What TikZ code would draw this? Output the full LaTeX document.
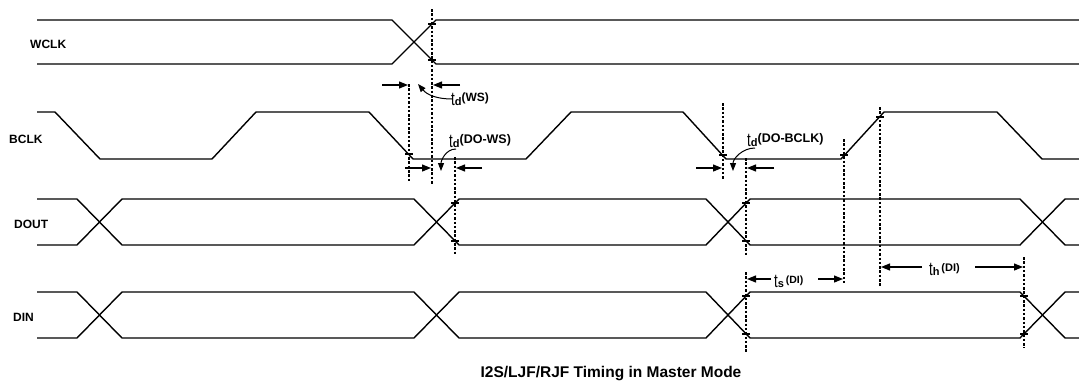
\documentclass[tikz,border=0pt]{standalone}
\usepackage{fontspec}
\usepackage{graphicx}
\setmainfont{Liberation Sans}
\usetikzlibrary{arrows.meta}
\newcommand{\tsym}{{\fontsize{19}{19}\selectfont\scalebox{0.7}[1]{t}}}
\newcommand{\tlabel}[3]{\tsym{\fontsize{11}{11}\selectfont\bfseries #1}\raisebox{3.5pt}{\fontsize{#3}{#3}\selectfont\bfseries #2}}
\begin{document}
\begin{tikzpicture}[x=1pt,y=1pt,
  sig/.style={line width=1.4pt, line join=miter},
  guide/.style={line width=2pt, dash pattern=on 2.5pt off 1.8pt},
  tickmark/.style={line width=1.2pt},
  dim/.style={line width=1.2pt, -{Triangle[length=9pt,width=7pt]}},
  curvarrow/.style={line width=1pt, -{Triangle[length=8pt,width=6pt]}},
  siglabel/.style={font=\fontsize{12}{12}\selectfont\bfseries, anchor=west, inner sep=0pt},
  tlab/.style={anchor=base west, inner sep=0pt}]
\useasboundingbox (0,0) rectangle (1079,-383);

% signal labels
\node[siglabel] (lwclk) at (30,-44) {WCLK};
\node[siglabel] (lbclk) at (9,-139) {BCLK};
\node[siglabel] (ldout) at (14,-224) {DOUT};
\node[siglabel] (ldin)  at (13,-317) {DIN};

% WCLK
\draw[sig] (37,-20) -- (392,-20) -- (436,-64) -- (1079,-64);
\draw[sig] (37,-64) -- (392,-64) -- (436,-20) -- (1079,-20);

% BCLK
\draw[sig] (37,-112) -- (55,-112) -- (100,-159) -- (212,-159) -- (256,-112) -- (369,-112)
  -- (413,-159) -- (526,-159) -- (571,-112) -- (683,-112) -- (726,-159) -- (841,-159)
  -- (884,-112) -- (997,-112) -- (1042,-159) -- (1079,-159);

% DOUT
\draw[sig] (37,-199) -- (77,-199) -- (122,-245) -- (414,-245) -- (459,-199) -- (706,-199)
  -- (750,-245) -- (1020,-245) -- (1065,-199) -- (1079,-199);
\draw[sig] (37,-245) -- (77,-245) -- (122,-199) -- (414,-199) -- (459,-245) -- (706,-245)
  -- (750,-199) -- (1020,-199) -- (1065,-245) -- (1079,-245);

% DIN
\draw[sig] (37,-292) -- (77,-292) -- (122,-338) -- (414,-338) -- (459,-292) -- (706,-292)
  -- (750,-338) -- (1020,-338) -- (1065,-292) -- (1079,-292);
\draw[sig] (37,-338) -- (77,-338) -- (122,-292) -- (414,-292) -- (459,-338) -- (706,-338)
  -- (750,-292) -- (1020,-292) -- (1065,-338) -- (1079,-338);

% guide coordinates
\coordinate (g1t) at (432,-9);   \coordinate (g1b) at (432,-185);
\coordinate (g2t) at (409,-84);  \coordinate (g2b) at (409,-182);
\coordinate (g3t) at (455,-157); \coordinate (g3b) at (455,-255);
\coordinate (g4t) at (723,-103); \coordinate (g4b) at (723,-179);
\coordinate (g5t) at (746,-158); \coordinate (g5b) at (746,-255);
\coordinate (g6t) at (746,-272); \coordinate (g6b) at (746,-352);
\coordinate (g7t) at (844,-139); \coordinate (g7b) at (844,-283);
\coordinate (g8t) at (880,-107); \coordinate (g8b) at (880,-286);
\coordinate (g9t) at (1024,-257); \coordinate (g9b) at (1024,-348);
\foreach \g in {1,...,9} { \draw[guide] (g\g t) -- (g\g b); }

% tick marks at crossings
\foreach \x/\y in {432/24, 432/60, 409/154, 455/203, 455/241, 723/155, 746/203, 746/241,
  844/155, 880/117, 746/296, 746/334, 1024/296, 1024/334}
  { \draw[tickmark] (\x-4,-\y) -- (\x+4,-\y); }

% td(WS)
\coordinate (a1s) at (382,-85); \coordinate (a1e) at (408,-85);
\coordinate (a2s) at (460,-85); \coordinate (a2e) at (433,-85);
\draw[dim] (a1s) -- (a1e);
\draw[dim] (a2s) -- (a2e);
\node[tlab] (tws) at (451,-105) {\tlabel{d}{(WS)}{12}};
\coordinate (c1s) at (452,-99); \coordinate (c1e) at (418,-84);
\draw[curvarrow] (c1s) to[out=180,in=-50] (c1e);

% td(DO-WS)
\coordinate (b1s) at (405,-168); \coordinate (b1e) at (431,-168);
\coordinate (b2s) at (482,-168); \coordinate (b2e) at (456,-168);
\draw[dim] (b1s) -- (b1e);
\draw[dim] (b2s) -- (b2e);
\node[tlab] (tdows) at (449,-147) {\tlabel{d}{(DO-WS)}{12.5}};
\coordinate (c2s) at (456,-149); \coordinate (c2e) at (441,-171);
\draw[curvarrow] (c2s) to[out=180,in=90] (c2e);

% td(DO-BCLK)
\coordinate (d1s) at (696,-168); \coordinate (d1e) at (722,-168);
\coordinate (d2s) at (774,-168); \coordinate (d2e) at (747,-168);
\draw[dim] (d1s) -- (d1e);
\draw[dim] (d2s) -- (d2e);
\node[tlab] (tdobclk) at (747,-146) {\tlabel{d}{(DO-BCLK)}{12.5}};
\coordinate (c3s) at (755,-148); \coordinate (c3e) at (733,-171);
\draw[curvarrow] (c3s) to[out=180,in=90] (c3e);

% ts(DI)
\node[tlab] (tsdi) at (774,-287) {\tlabel{s}{\,(DI)}{10.5}};
\coordinate (e1s) at (771,-279); \coordinate (e1e) at (747,-279);
\coordinate (e2s) at (818,-279); \coordinate (e2e) at (843,-279);
\draw[dim] (e1s) -- (e1e);
\draw[dim] (e2s) -- (e2e);

% th(DI)
\node[tlab] (thdi) at (929,-275) {\tlabel{h}{\,(DI)}{11}};
\coordinate (f1s) at (922,-267); \coordinate (f1e) at (881,-267);
\coordinate (f2s) at (975,-267); \coordinate (f2e) at (1023,-267);
\draw[dim] (f1s) -- (f1e);
\draw[dim] (f2s) -- (f2e);

% caption
\node[font=\fontsize{15.5}{15.5}\selectfont\bfseries, inner sep=0pt, anchor=base] (cap) at (611,-377)
  {I2S/LJF/RJF Timing in Master Mode};
\end{tikzpicture}
\end{document}
